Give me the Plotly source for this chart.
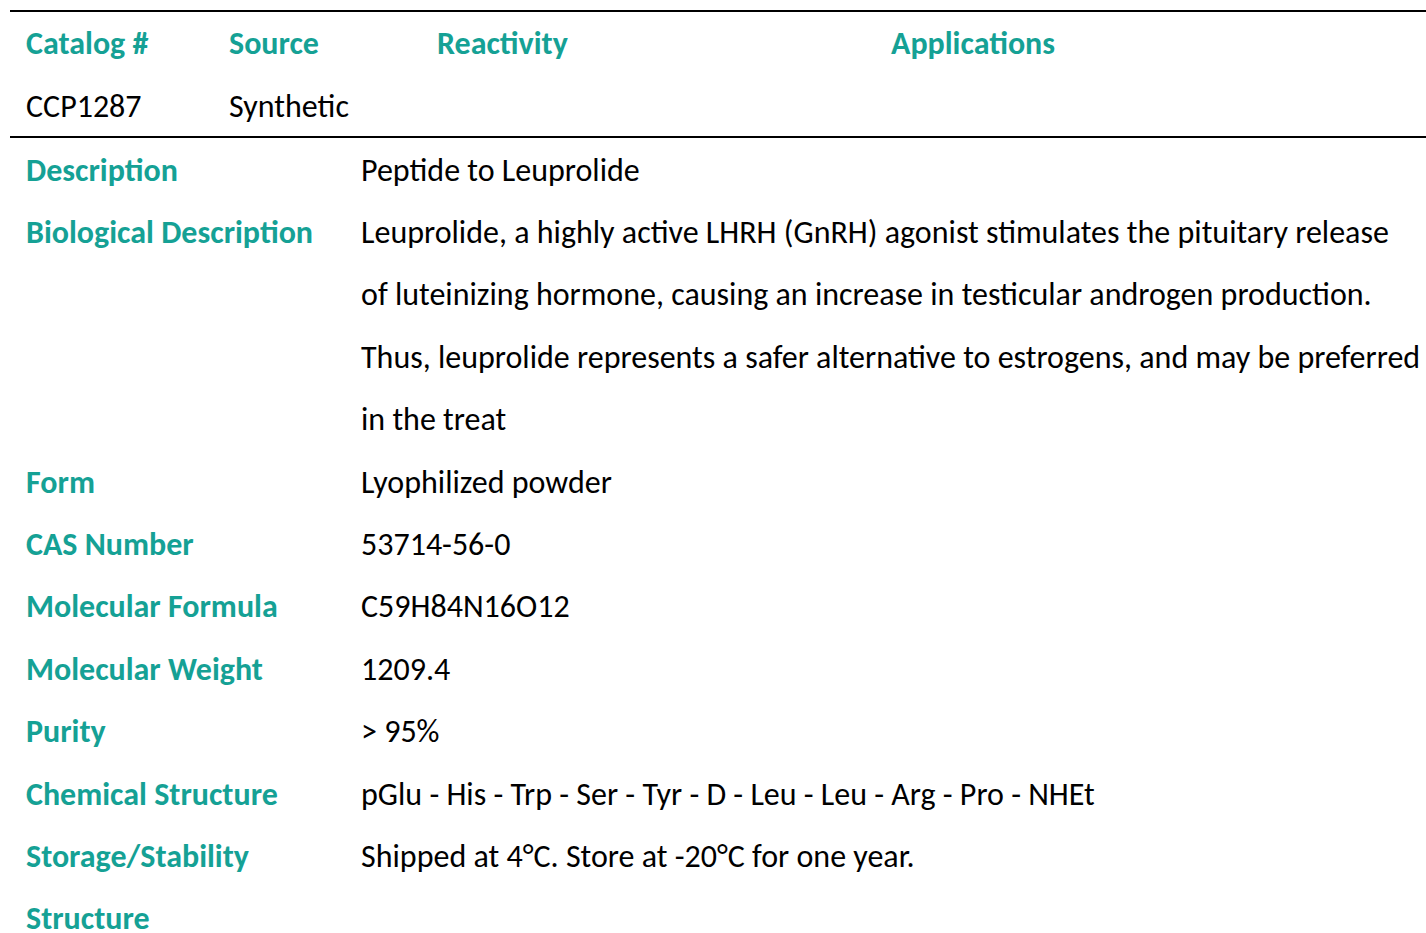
import plotly.graph_objects as go

# ---- data ----
header_labels = ["Catalog #", "Source", "Reactivity", "Applications"]
header_values = ["CCP1287", "Synthetic", "", ""]
field_labels = ["Description", "Biological Description", "Form", "CAS Number",
                "Molecular Formula", "Molecular Weight", "Purity",
                "Chemical Structure", "Storage/Stability", "Structure"]
field_values = [
    ["Peptide to Leuprolide"],
    ["Leuprolide, a highly active LHRH (GnRH) agonist stimulates the pituitary release",
     "of luteinizing hormone, causing an increase in testicular androgen production.",
     "Thus, leuprolide represents a safer alternative to estrogens, and may be preferred",
     "in the treat"],
    ["Lyophilized powder"],
    ["53714-56-0"],
    ["C59H84N16O12"],
    ["1209.4"],
    ["> 95%"],
    ["pGlu - His - Trp - Ser - Tyr - D - Leu - Leu - Arg - Pro - NHEt"],
    ["Shipped at 4°C. Store at -20°C for one year."],
    [""],
]

# ---- styling ----
W, H = 1426, 933
TEAL = "#15a195"
FONT = "Carlito, Lato, sans-serif"
FS = 32
header_x = [24, 227, 435, 889]
label_x = 24
value_x = 359
header_y = 43
header_val_y = 106
row0_y = 170
step = 62.4

fig = go.Figure()
ann = []
for lab, x, val in zip(header_labels, header_x, header_values):
    ann.append(dict(x=x, y=header_y, text=f"<b>{lab}</b>", font=dict(color=TEAL, size=FS, family=FONT)))
    if val:
        ann.append(dict(x=x, y=header_val_y, text=val, font=dict(color="black", size=FS, family=FONT)))

line_idx = 0
for lab, vals in zip(field_labels, field_values):
    y = row0_y + line_idx * step
    ann.append(dict(x=label_x, y=y, text=f"<b>{lab}</b>", font=dict(color=TEAL, size=FS, family=FONT)))
    for j, v in enumerate(vals):
        if v:
            ann.append(dict(x=value_x, y=row0_y + (line_idx + j) * step, text=v,
                            font=dict(color="black", size=FS, family=FONT)))
    line_idx += len(vals)

for a in ann:
    a.update(xref="x", yref="y", xanchor="left", yanchor="middle", showarrow=False)

fig.update_layout(
    width=W, height=H, margin=dict(l=0, r=0, t=0, b=0),
    paper_bgcolor="white", plot_bgcolor="white",
    xaxis=dict(range=[0, W], visible=False, fixedrange=True),
    yaxis=dict(range=[H, 0], visible=False, fixedrange=True),
    annotations=ann,
    shapes=[
        dict(type="line", xref="x", yref="y", x0=10, x1=W, y0=11, y1=11, line=dict(color="black", width=2)),
        dict(type="line", xref="x", yref="y", x0=10, x1=W, y0=137, y1=137, line=dict(color="black", width=2)),
    ],
    showlegend=False,
)
fig.write_html("out.html",
               config={"displayModeBar": False, "staticPlot": True},
               post_script="document.body.style.margin='0';document.body.style.overflow='hidden';")
